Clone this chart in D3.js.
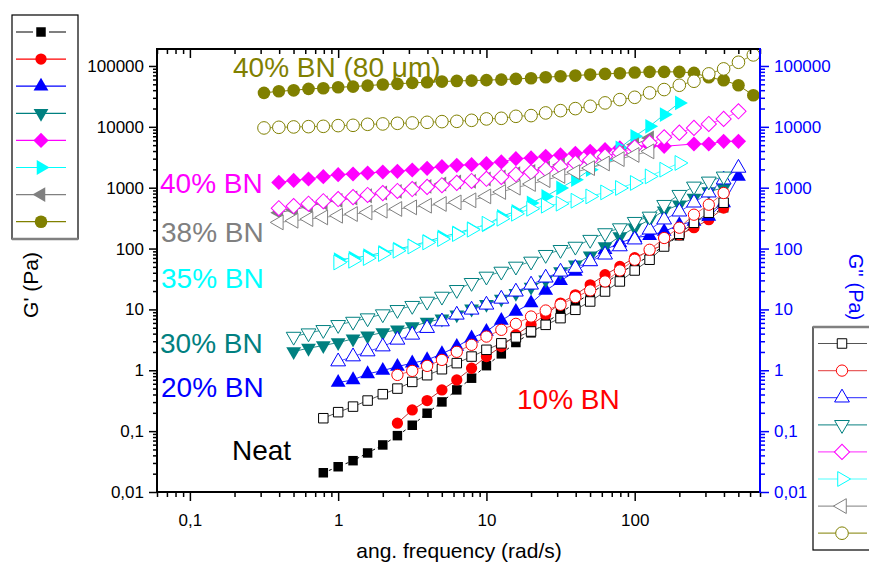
<html>
<head>
  <style>
    body { margin: 0; background-color: #ffffff; }
  </style>
  <script src="https://d3js.org/d3.v7.min.js"></script>
</head>
<body>
  <div id="chart-container"></div>
  <script>
    // angular frequency grid of the sweep (rad/s), 10 points per decade
    const freqs = [0.316, 0.398, 0.501, 0.631, 0.794, 1, 1.26, 1.58, 2, 2.51,
      3.16, 3.98, 5.01, 6.31, 7.94, 10, 12.6, 15.8, 20, 25.1,
      31.6, 39.8, 50.1, 63.1, 79.4, 100, 126, 158, 200, 251,
      316, 398, 501, 631];

    // G' (filled symbols) and G'' (open symbols), in Pa; first point sits at freqs[start]
    const neatG1 = [0.0207, 0.026, 0.0327, 0.0438, 0.0593, 0.0843, 0.125, 0.197, 0.302, 0.476,
      0.741, 1.19, 1.86, 2.86, 4.12, 6.03, 8.79, 12.8, 18.1, 26.4,
      40.0, 54.2, 76.2, 111, 162, 237, 333, 469];
    const neatG2 = [0.163, 0.205, 0.253, 0.318, 0.405, 0.500, 0.644, 0.830, 1.04, 1.31,
      1.68, 2.17, 2.77, 3.47, 4.34, 5.58, 7.19, 9.85, 13.5, 19.7,
      28.8, 43.6, 65.5, 108, 175, 265, 388, 566];
    const bn10G1 = [0.135, 0.223, 0.318, 0.476, 0.695, 1.08, 1.68, 2.45, 3.82, 5.58,
      8.15, 12.7, 17.4, 25.4, 37.1, 50.8, 70.6, 92.1, 116, 169,
      220, 298, 463];
    const bn10G2 = [0.839, 0.977, 1.18, 1.48, 2.01, 2.62, 3.58, 4.62, 5.79, 7.64,
      9.59, 11.9, 15.9, 20.5, 28.8, 43.6, 65.5, 95.5, 149, 220,
      360, 525, 818];
    const bn20G1 = [0.628, 0.695, 0.873, 0.989, 1.15, 1.31, 1.48, 1.86, 2.45, 3.37,
      4.33, 6.56, 9.23, 12.7, 20.5, 29.5, 42.0, 61.4, 95.5, 124,
      151, 163, 191, 246, 279, 337, 560, 1535];
    const bn20G2 = [1.39, 1.68, 2.03, 2.45, 3.16, 3.82, 4.92, 6.32, 8.15, 9.85,
      11.9, 14.9, 19.5, 25.4, 33.1, 41.5, 47.8, 61.4, 79.1, 108,
      140, 204, 298, 403, 566, 828, 1355, 2110];
    const bn30G1 = [2.03, 2.31, 2.55, 2.86, 3.28, 3.68, 4.17, 4.62, 5.23, 6.18,
      7.00, 8.15, 10.2, 12.2, 14.8, 18.5, 23.3, 30.7, 42.0, 54.2,
      76.2, 108, 158, 220, 298, 419, 525, 677, 869, 989];
    const bn30G2 = [3.58, 4.07, 4.62, 5.58, 6.32, 7.19, 8.37, 9.85, 11.5, 13.5,
      16.3, 21.0, 27.4, 34.8, 42.0, 50.8, 61.4, 79.1, 95.5, 108,
      140, 180, 217, 276, 337, 525, 767, 1050, 1270, 1535];
    const bn35G1 = [65.5, 69.8, 76.2, 86.3, 98.2, 111, 131, 155, 180, 212,
      246, 337, 408, 560, 719, 989, 1355, 1977, 2888, 4500,
      6980, 10190, 15880, 24720];
    const bn35G2 = [59.0, 63.0, 69.8, 81.2, 92.1, 108, 126, 143, 173, 204,
      256, 309, 373, 451, 506, 546, 611, 719, 837, 989,
      1195, 1534, 1977, 2548];
    const bn38G1 = [388, 435, 492, 560, 618, 677, 738, 818, 869, 963,
      1050, 1150, 1240, 1270, 1390, 1500, 1700, 1850, 2110, 2360,
      2550, 2710, 3200, 3810, 5100, 6560];
    const bn38G2 = [269, 286, 305, 325, 346, 369, 392, 419, 447, 475,
      506, 540, 573, 620, 720, 850, 1000, 1150, 1330, 1560,
      1800, 2100, 2500, 2950, 3450, 3950];
    const bn40G1 = [1222, 1318, 1390, 1517, 1637, 1680, 1745, 1812, 1854, 1955,
      2078, 2215, 2327, 2388, 2483, 2648, 3000, 3080, 3275, 3453,
      3667, 3955, 4218, 4500, 4670, 4910, 4780, null, 5230, 5230,
      5770, 5770];
    const bn40G2 = [460, 500, 545, 600, 650, 700, 760, 815, 885, 950,
      1030, 1100, 1200, 1290, 1400, 1500, 1660, 1800, 2010, 2230,
      2550, 2850, 3260, 3720, 4580, 5450, 6720, 8030, 9600, 11160,
      13490, 17990];
    const bn40bigG1 = [36100, 38400, 39800, 42000, 43000, 44600, 45800, 47600, 49500, 50800,
      52800, 54000, 55400, 56800, 57500, 58500, 59700, 61300, 62800, 65200,
      67700, 69500, 72200, 74100, 75800, 77900, 80000, 80000, 80000, 76900,
      65200, 58200, 48200, 33000];
    const bn40bigG2 = [9590, 9820, 9960, 10070, 10190, 10470, 10590, 11000, 11160, 11420,
      11590, 11860, 12180, 12310, 12790, 13490, 13800, 14890, 15290, 16920,
      18460, 19920, 21750, 24720, 28010, 30570, 36130, 40950, 48200, 56100,
      74100, 89500, 115000, 152000];

    const yMajor = [0.01, 0.1, 1, 10, 100, 1000, 10000, 100000];
    const xMajor = [0.1, 1, 10, 100];

    // series table: G' curves first, then G''
    const seriesG1 = [
      { vals: neatG1, start: 4, color: "#000000", line: "#000000", shape: "square", dash: "3,3" },
      { vals: bn10G1, start: 9, color: "#ff0000", line: "#c03030", shape: "circle" },
      { vals: bn20G1, start: 5, color: "#0000ff", line: "#2020ff", shape: "up" },
      { vals: bn30G1, start: 2, color: "#008080", line: "#2a8a8a", shape: "down" },
      { vals: bn40G1, start: 1, color: "#ff00ff", line: "#ff00ff", shape: "diamond" },
      { vals: bn35G1, start: 5, color: "#00ffff", line: "#20e0e0", shape: "right" },
      { vals: bn38G1, start: 1, color: "#808080", line: "#808080", shape: "left" },
      { vals: bn40bigG1, start: 0, color: "#808000", line: "#808000", shape: "hex" }
    ];
    const seriesG2 = [
      { vals: neatG2, start: 4, color: "#000000", line: "#555555", shape: "square" },
      { vals: bn10G2, start: 9, color: "#ff0000", line: "#e86060", shape: "circle" },
      { vals: bn20G2, start: 5, color: "#0000ff", line: "#5050ff", shape: "up" },
      { vals: bn30G2, start: 2, color: "#008080", line: "#3a9a9a", shape: "down" },
      { vals: bn40G2, start: 1, color: "#ff00ff", line: "#ff50ff", shape: "diamond" },
      { vals: bn35G2, start: 5, color: "#00ffff", line: "#50ffff", shape: "right" },
      { vals: bn38G2, start: 1, color: "#808080", line: "#999999", shape: "left" },
      { vals: bn40bigG2, start: 0, color: "#808000", line: "#999933", shape: "hex" }
    ];

    const labels = [
      { text: "40% BN (80 \u03bcm)", x: 233, y: 77, color: "#808000" },
      { text: "40% BN", x: 160, y: 193, color: "#ff00ff" },
      { text: "38% BN", x: 161, y: 242, color: "#808080" },
      { text: "35% BN", x: 161, y: 288, color: "#00ffff" },
      { text: "30% BN", x: 160, y: 353, color: "#008080" },
      { text: "20% BN", x: 161, y: 397, color: "#0000ff" },
      { text: "Neat", x: 232, y: 460, color: "#000000" },
      { text: "10% BN", x: 517, y: 409, color: "#ff0000" }
    ];

    const W = 869, H = 562;
    const plot = { left: 157, right: 760, top: 49, bottom: 492 };

    const svg = d3.select("#chart-container")
      .append("svg")
      .attr("width", W)
      .attr("height", H)
      .style("font-family", "'Liberation Sans', Arial, sans-serif");

    const x = d3.scaleLog().domain([0.06, 700]).range([plot.left, plot.right]);
    const y = d3.scaleLog().domain([0.01, 190000]).range([plot.bottom, plot.top]);

    const fmt = v => (v < 1 ? String(v).replace(".", ",") : String(v));

    // minor ticks 2..9 of every decade inside the domain
    function minors(scale) {
      const [a, b] = scale.domain();
      const out = [];
      for (let e = Math.floor(Math.log10(a)); e <= Math.ceil(Math.log10(b)); e++) {
        for (let m = 2; m <= 9; m++) {
          const v = m * Math.pow(10, e);
          if (v >= a * 0.999 && v <= b * 1.001) out.push(v);
        }
      }
      return out;
    }

    // marker shapes
    function shapePath(shape) {
      if (shape === "square") return d3.symbol().type(d3.symbolSquare).size(90)();
      if (shape === "circle") return d3.symbol().type(d3.symbolCircle).size(100)();
      if (shape === "hex") return d3.symbol().type(d3.symbolCircle).size(125)();
      if (shape === "diamond") return d3.symbol().type(d3.symbolSquare).size(115)();
      return d3.symbol().type(d3.symbolTriangle).size(95)();
    }
    const rot = { up: 0, down: 180, right: 90, left: -90, diamond: 45 };

    svg.append("clipPath").attr("id", "clip")
      .append("rect")
      .attr("x", plot.left).attr("y", plot.top)
      .attr("width", plot.right - plot.left).attr("height", plot.bottom - plot.top);

    const g = svg.append("g").attr("clip-path", "url(#clip)");

    const line = d3.line().x(d => x(d[0])).y(d => y(d[1]));

    function drawSeries(s, filled) {
      const pts = s.vals.map((v, i) => [freqs[s.start + i], v]).filter(d => d[1] != null);
      g.append("path")
        .attr("d", line(pts))
        .attr("fill", "none")
        .attr("stroke", s.line)
        .attr("stroke-width", 1)
        .attr("stroke-dasharray", s.dash || null);
      g.selectAll(null)
        .data(pts)
        .enter()
        .append("path")
        .attr("d", shapePath(s.shape))
        .attr("transform", d => `translate(${x(d[0])},${y(d[1])}) rotate(${rot[s.shape] || 0})`)
        .attr("fill", filled ? s.color : "#ffffff")
        .attr("stroke", s.color)
        .attr("stroke-width", filled ? 0 : 1);
    }
    seriesG1.forEach(s => drawSeries(s, true));
    seriesG2.forEach(s => drawSeries(s, false));

    // axes
    function styleAxis(sel, color) {
      sel.select(".domain").remove();
      sel.selectAll("line").attr("stroke", color).attr("stroke-width", 1.5);
      sel.selectAll("text").attr("fill", color).style("font-size", "17px")
        .style("font-family", "'Liberation Sans', Arial, sans-serif");
    }

    const gL = svg.append("g").attr("transform", `translate(${plot.left},0)`);
    gL.append("g").call(d3.axisLeft(y).tickValues(yMajor).tickFormat(fmt).tickSize(8).tickPadding(5))
      .call(s => styleAxis(s, "#000"));
    gL.append("g").call(d3.axisLeft(y).tickValues(minors(y)).tickFormat("").tickSize(4))
      .call(s => styleAxis(s, "#000"));

    const gR = svg.append("g").attr("transform", `translate(${plot.right},0)`);
    gR.append("g").call(d3.axisRight(y).tickValues(yMajor).tickFormat(fmt).tickSize(9).tickPadding(5))
      .call(s => styleAxis(s, "#0000ff"));
    gR.append("g").call(d3.axisRight(y).tickValues(minors(y)).tickFormat("").tickSize(5))
      .call(s => styleAxis(s, "#0000ff"));

    const gB = svg.append("g").attr("transform", `translate(0,${plot.bottom})`);
    gB.append("g").call(d3.axisBottom(x).tickValues(xMajor).tickFormat(fmt).tickSize(9).tickPadding(13))
      .call(s => styleAxis(s, "#000"));
    gB.append("g").call(d3.axisBottom(x).tickValues(minors(x)).tickFormat("").tickSize(5))
      .call(s => styleAxis(s, "#000"));

    const gT = svg.append("g").attr("transform", `translate(0,${plot.top})`);
    gT.append("g").call(d3.axisBottom(x).tickValues(xMajor).tickFormat("").tickSize(9))
      .call(s => styleAxis(s, "#000"));
    gT.append("g").call(d3.axisBottom(x).tickValues(minors(x)).tickFormat("").tickSize(5))
      .call(s => styleAxis(s, "#000"));

    // axis lines
    svg.append("line").attr("x1", plot.left - 1).attr("x2", plot.right).attr("y1", plot.bottom).attr("y2", plot.bottom)
      .attr("stroke", "#000").attr("stroke-width", 2);
    svg.append("line").attr("x1", plot.left - 1).attr("x2", plot.right).attr("y1", plot.top).attr("y2", plot.top)
      .attr("stroke", "#000").attr("stroke-width", 2);
    svg.append("line").attr("x1", plot.left).attr("x2", plot.left).attr("y1", plot.top).attr("y2", plot.bottom + 1)
      .attr("stroke", "#000").attr("stroke-width", 2);
    svg.append("line").attr("x1", plot.right).attr("x2", plot.right).attr("y1", plot.top - 1).attr("y2", plot.bottom + 1)
      .attr("stroke", "#0000ff").attr("stroke-width", 2);

    // axis titles
    svg.append("text")
      .attr("x", 459).attr("y", 558)
      .attr("text-anchor", "middle")
      .style("font-size", "21px")
      .text("ang. frequency (rad/s)");
    svg.append("text")
      .attr("transform", "translate(38,285) rotate(-90)")
      .attr("text-anchor", "middle")
      .style("font-size", "21px")
      .text("G' (Pa)");
    svg.append("text")
      .attr("transform", "translate(849,287) rotate(90)")
      .attr("text-anchor", "middle")
      .attr("fill", "#0000ff")
      .style("font-size", "20px")
      .text("G'' (Pa)");

    // in-plot labels
    svg.selectAll(".lab")
      .data(labels)
      .enter()
      .append("text")
      .attr("class", "lab")
      .attr("x", d => d.x).attr("y", d => d.y)
      .attr("fill", d => d.color)
      .style("font-size", "28px")
      .text(d => d.text);

    // legends
    function legend(list, filled, x0, y0, x1, y1, lx1, lx2, mx, top) {
      const lg = svg.append("g");
      lg.append("rect").attr("x", x0).attr("y", y0).attr("width", x1 - x0).attr("height", y1 - y0)
        .attr("fill", "#fff").attr("stroke", "#000").attr("stroke-width", 1.2);
      const edgeY = top ? y0 : y1;
      lg.append("line").attr("x1", x0).attr("x2", x1).attr("y1", edgeY).attr("y2", edgeY)
        .attr("stroke", "#808080").attr("stroke-width", 2.5);
      list.forEach((s, i) => {
        const yy = (top ? y0 + 16.5 : y0 + 17) + i * 27.1;
        lg.append("line").attr("x1", lx1).attr("x2", lx2).attr("y1", yy).attr("y2", yy)
          .attr("stroke", filled ? s.color : s.line).attr("stroke-width", 1.2)
          .attr("stroke-dasharray", s.dash ? "17,16" : null);
        lg.append("path")
          .attr("d", shapePath(s.shape))
          .attr("transform", `translate(${mx},${yy}) rotate(${rot[s.shape] || 0})`)
          .attr("fill", filled ? s.color : "#fff")
          .attr("stroke", s.color)
          .attr("stroke-width", filled ? 0 : 1);
      });
    }
    legend(seriesG1, true, 12, 15, 78, 239, 16, 66, 41, false);
    legend(seriesG2, false, 813, 327, 885, 550, 818, 867, 842, true);
  </script>
</body>
</html>
